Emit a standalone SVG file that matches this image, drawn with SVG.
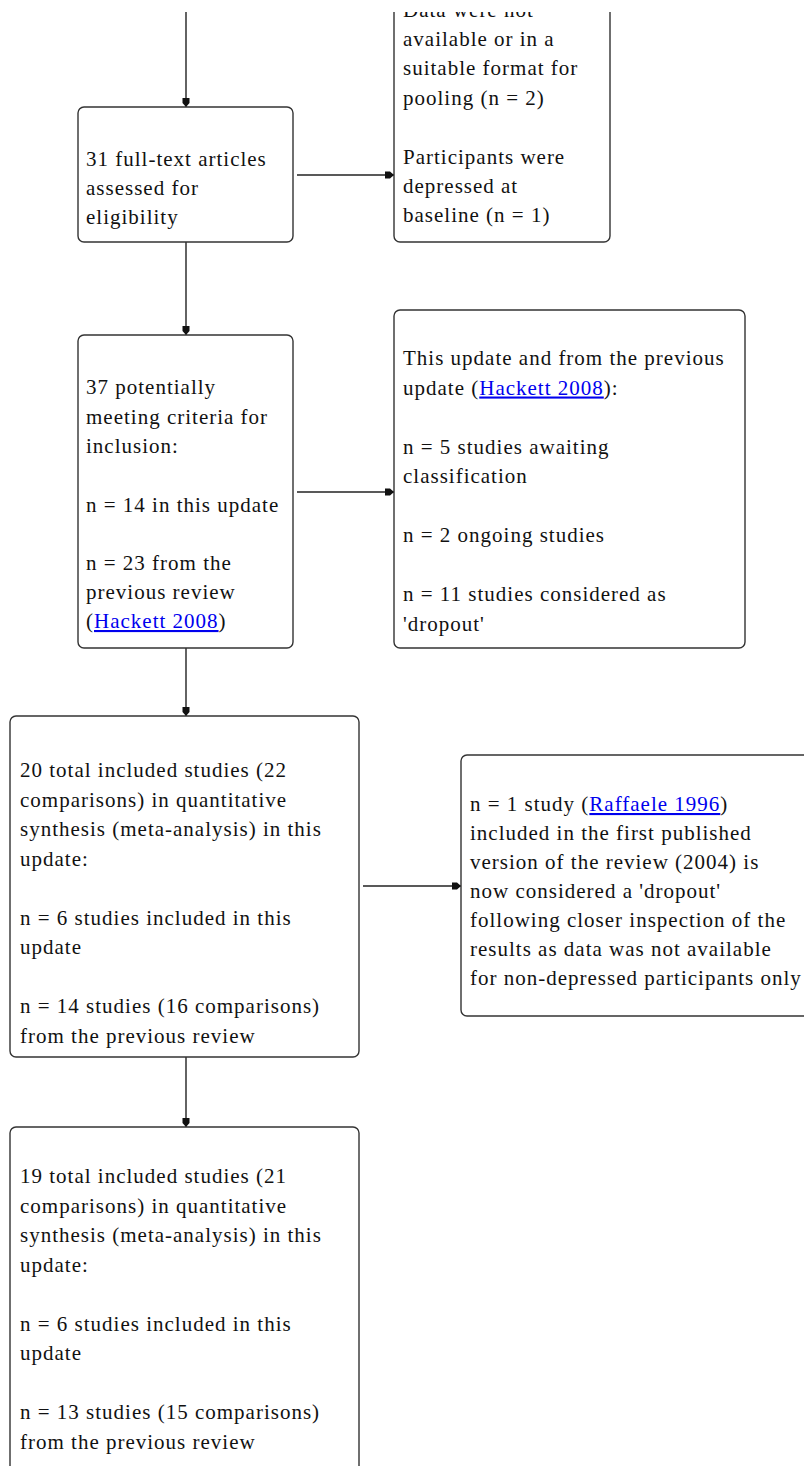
<svg xmlns="http://www.w3.org/2000/svg" width="804" height="1466" viewBox="0 0 804 1466">
<style>
.box{fill:#fff;stroke:#333;stroke-width:1.4}
.t{font-family:"Liberation Serif","Times New Roman",serif;font-size:21px;letter-spacing:1px;fill:#111}
.lk{fill:#0000ee;text-decoration:underline}
.c{stroke:#222;stroke-width:1.4;fill:none}
</style>
<defs>
<marker id="ah" viewBox="0 0 9 8" refX="9" refY="4" markerWidth="9" markerHeight="8" markerUnits="userSpaceOnUse" orient="auto">
<path d="M0,0.5 L5,0.5 L9,4 L5,7.5 L0,7.5 Z" fill="#111"/>
</marker>
<clipPath id="view"><rect x="0" y="12" width="804" height="1460"/></clipPath>
</defs>
<rect x="0" y="0" width="804" height="1466" fill="#fff"/>
<g clip-path="url(#view)">
<g id="connectors">
<line class="c" x1="186" y1="0" x2="186" y2="107" marker-end="url(#ah)"/>
<line class="c" x1="297" y1="175" x2="394" y2="175" marker-end="url(#ah)"/>
<line class="c" x1="186" y1="242" x2="186" y2="335" marker-end="url(#ah)"/>
<line class="c" x1="297" y1="492" x2="394" y2="492" marker-end="url(#ah)"/>
<line class="c" x1="186" y1="648" x2="186" y2="716" marker-end="url(#ah)"/>
<line class="c" x1="363" y1="886" x2="461" y2="886" marker-end="url(#ah)"/>
<line class="c" x1="186" y1="1057" x2="186" y2="1127" marker-end="url(#ah)"/>
</g>
<g id="excluded-top">
<rect class="box" x="394" y="-60" width="216" height="302" rx="6"/>
<text class="t"><tspan x="403" y="17">Data were not</tspan><tspan x="403" y="46">available or in a</tspan><tspan x="403" y="75">suitable format for</tspan><tspan x="403" y="104.5">pooling (n = 2)</tspan><tspan x="403" y="163.5">Participants were</tspan><tspan x="403" y="193">depressed at</tspan><tspan x="403" y="222">baseline (n = 1)</tspan></text>
</g>
<g id="fulltext">
<rect class="box" x="78" y="107" width="215" height="135" rx="6"/>
<text class="t"><tspan x="86" y="166">31 full-text articles</tspan><tspan x="86" y="195">assessed for</tspan><tspan x="86" y="224">eligibility</tspan></text>
</g>
<g id="potential">
<rect class="box" x="78" y="335" width="215" height="313" rx="6"/>
<text class="t"><tspan x="86" y="394">37 potentially</tspan><tspan x="86" y="423.5">meeting criteria for</tspan><tspan x="86" y="453">inclusion:</tspan><tspan x="86" y="511.5">n = 14 in this update</tspan><tspan x="86" y="570">n = 23 from the</tspan><tspan x="86" y="599">previous review</tspan><tspan x="86" y="628">(<tspan class="lk">Hackett 2008</tspan>)</tspan></text>
</g>
<g id="awaiting">
<rect class="box" x="394" y="310" width="351" height="338" rx="6"/>
<text class="t"><tspan x="403" y="365">This update and from the previous</tspan><tspan x="403" y="394.5">update (<tspan class="lk">Hackett 2008</tspan>):</tspan><tspan x="403" y="453.5">n = 5 studies awaiting</tspan><tspan x="403" y="483">classification</tspan><tspan x="403" y="542">n = 2 ongoing studies</tspan><tspan x="403" y="601">n = 11 studies considered as</tspan><tspan x="403" y="630.5">'dropout'</tspan></text>
</g>
<g id="included20">
<rect class="box" x="10" y="716" width="349" height="341" rx="6"/>
<text class="t"><tspan x="20" y="777">20 total included studies (22</tspan><tspan x="20" y="806.5">comparisons) in quantitative</tspan><tspan x="20" y="836">synthesis (meta-analysis) in this</tspan><tspan x="20" y="865.5">update:</tspan><tspan x="20" y="924.5">n = 6 studies included in this</tspan><tspan x="20" y="954">update</tspan><tspan x="20" y="1013">n = 14 studies (16 comparisons)</tspan><tspan x="20" y="1042.5">from the previous review</tspan></text>
</g>
<g id="dropout">
<rect class="box" x="461" y="755" width="350" height="261" rx="6"/>
<text class="t"><tspan x="470" y="811">n = 1 study (<tspan class="lk">Raffaele 1996</tspan>)</tspan><tspan x="470" y="840">included in the first published</tspan><tspan x="470" y="869">version of the review (2004) is</tspan><tspan x="470" y="898">now considered a 'dropout'</tspan><tspan x="470" y="927">following closer inspection of the</tspan><tspan x="470" y="956">results as data was not available</tspan><tspan x="470" y="985">for non-depressed participants only</tspan></text>
</g>
<g id="included19">
<rect class="box" x="10" y="1127" width="349" height="400" rx="6"/>
<text class="t"><tspan x="20" y="1183">19 total included studies (21</tspan><tspan x="20" y="1212.5">comparisons) in quantitative</tspan><tspan x="20" y="1242">synthesis (meta-analysis) in this</tspan><tspan x="20" y="1271.5">update:</tspan><tspan x="20" y="1330.5">n = 6 studies included in this</tspan><tspan x="20" y="1360">update</tspan><tspan x="20" y="1419">n = 13 studies (15 comparisons)</tspan><tspan x="20" y="1448.5">from the previous review</tspan></text>
</g>
</g>
</svg>
